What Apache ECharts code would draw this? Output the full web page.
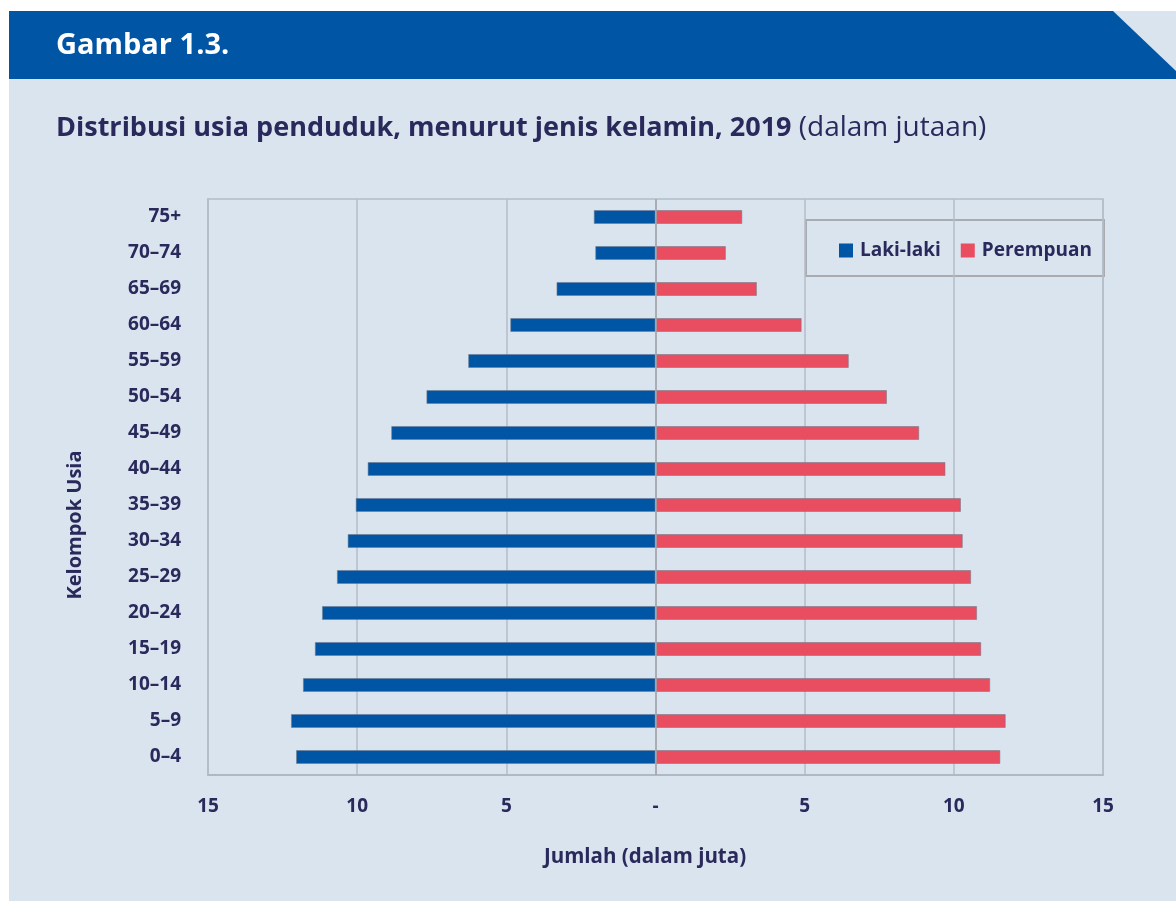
<!DOCTYPE html>
<html>
<head>
<meta charset="utf-8">
<script src="https://cdn.jsdelivr.net/npm/echarts@6/dist/echarts.min.js"></script>
<style>
  html, body { margin: 0; padding: 0; background: #ffffff; }
  #bg { position: absolute; left: 9px; top: 11px; right: 0; bottom: 0; background: #dae4ee; }
  #chart { position: absolute; left: 0; top: 0; width: 1176px; height: 901px; }
</style>
</head>
<body>
<div id="bg"></div>
<div id="chart"></div>
<script>
// Age groups, bottom to top
const ageGroups = ['0–4', '5–9', '10–14', '15–19', '20–24', '25–29', '30–34', '35–39',
                   '40–44', '45–49', '50–54', '55–59', '60–64', '65–69', '70–74', '75+'];
// Population in millions, 2019
const male   = [12.05, 12.22, 11.82, 11.42, 11.18, 10.68, 10.32, 10.05, 9.65, 8.86, 7.68, 6.28, 4.87, 3.32, 2.02, 2.07];
const female = [11.56, 11.74, 11.22, 10.92, 10.78, 10.58, 10.30, 10.24, 9.72, 8.84, 7.76, 6.48, 4.90, 3.40, 2.36, 2.91];
// Horizontal axis ticks and their labels
const xTickValues = [-15, -10, -5, 0, 5, 10, 15];
const xTickLabels = ['15', '10', '5', '-', '5', '10', '15'];

const seriesNames = ['Laki-laki', 'Perempuan'];
const INK = '#2a295c';
const BLUE = '#0055a5';
const RED = '#e94d60';
const FONT = "'Open Sans', 'Noto Sans', sans-serif";

const chart = echarts.init(document.getElementById('chart'), null, { renderer: 'canvas' });

chart.setOption({
  animation: false,
  textStyle: { fontFamily: FONT },
  grid: {
    left: 208, right: 73, top: 199, bottom: 126,
    show: true, borderColor: '#b3bcc8', borderWidth: 1.5, backgroundColor: 'transparent'
  },
  legend: {
    data: seriesNames,
    left: 839, top: 241, padding: 0,
    icon: 'rect', itemWidth: 14, itemHeight: 14, itemGap: 20,
    itemStyle: { borderWidth: 0 },
    textStyle: { color: INK, fontSize: 19, fontWeight: 'bold', fontFamily: FONT, padding: [0, 0, 0, 2] }
  },
  xAxis: {
    type: 'value', min: xTickValues[0], max: xTickValues[xTickValues.length - 1], interval: 5,
    axisLine: { show: true, lineStyle: { color: '#b0b8c4', width: 2 } },
    axisTick: { show: false },
    splitLine: { show: true, lineStyle: { color: '#b5bdc9', width: 1.5 } },
    axisLabel: {
      margin: 22, color: INK, fontSize: 19, fontWeight: 'bold', fontFamily: FONT,
      formatter: v => xTickLabels[xTickValues.indexOf(v)]
    }
  },
  yAxis: {
    type: 'category', data: ageGroups,
    axisLine: { show: true, onZero: false, lineStyle: { color: '#b3bcc8', width: 1.5 } },
    axisTick: { show: false },
    axisLabel: { margin: 27, color: INK, fontSize: 19, fontWeight: 'bold', fontFamily: FONT }
  },
  series: [
    {
      name: seriesNames[0], type: 'bar', barWidth: 14, barGap: '-100%',
      data: male.map(v => -v),
      itemStyle: { color: BLUE, borderColor: 'rgba(110,122,140,0.55)', borderWidth: 1 }
    },
    {
      name: seriesNames[1], type: 'bar', barWidth: 14, barGap: '-100%',
      data: female,
      itemStyle: { color: RED, borderColor: 'rgba(110,122,140,0.55)', borderWidth: 1 },
      markLine: {
        silent: true, symbol: 'none', label: { show: false },
        lineStyle: { color: '#a3a6aa', type: 'solid', width: 1.5 },
        data: [{ xAxis: 0 }]
      }
    }
  ],
  graphic: [
    {
      type: 'polygon', silent: true,
      shape: { points: [[9, 11], [1113, 11], [1176, 71], [1176, 79], [9, 79]] },
      style: { fill: BLUE }
    },
    {
      type: 'text', left: 56, top: 31, silent: true,
      style: { text: 'Gambar 1.3.', fill: '#ffffff', font: "bold 29px 'Open Sans', 'Noto Sans', sans-serif" }
    },
    {
      type: 'text', left: 56, top: 114, silent: true,
      style: {
        text: '{b|Distribusi usia penduduk, menurut jenis kelamin, 2019}{r| (dalam jutaan)}',
        rich: {
          b: { fill: INK, fontSize: 27, fontWeight: 'bold', fontFamily: FONT },
          r: { fill: INK, fontSize: 28, fontWeight: 'normal', fontFamily: FONT }
        }
      }
    },
    {
      type: 'rect', silent: true,
      shape: { x: 806, y: 220, width: 298, height: 56 },
      style: { fill: 'transparent', stroke: '#a9abae', lineWidth: 2 }
    },
    {
      type: 'text', silent: true, x: 75, y: 525, rotation: Math.PI / 2,
      style: {
        text: 'Kelompok Usia', fill: INK, align: 'center', verticalAlign: 'middle',
        font: "bold 20px 'Open Sans', 'Noto Sans', sans-serif"
      }
    },
    {
      type: 'text', silent: true, x: 645, y: 857,
      style: {
        text: 'Jumlah (dalam juta)', fill: INK, align: 'center', verticalAlign: 'middle',
        font: "bold 20.5px 'Open Sans', 'Noto Sans', sans-serif"
      }
    }
  ]
});
</script>
</body>
</html>
